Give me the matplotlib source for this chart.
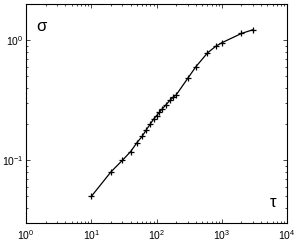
import matplotlib
matplotlib.use("Agg")
import matplotlib.pyplot as plt
import numpy as np

tau = [10, 20, 30, 40, 50, 60, 70, 80, 90, 100, 110, 120, 140, 160, 180, 200,
       300, 400, 600, 800, 1000, 2000, 3000]
sigma = [0.05, 0.08, 0.10, 0.118, 0.14, 0.158, 0.18, 0.20, 0.22, 0.235, 0.25,
         0.265, 0.29, 0.315, 0.335, 0.35, 0.48, 0.60, 0.78, 0.885, 0.95,
         1.135, 1.22]

plt.rcParams['font.family'] = ['Liberation Sans', 'DejaVu Sans']

fig = plt.figure(figsize=(3.0, 2.44), dpi=100)
ax = fig.add_axes([0.087, 0.086, 0.870, 0.898])

ax.loglog(tau, sigma, color="black", linewidth=0.9, marker="+",
          markersize=5, markeredgewidth=0.9)

ax.set_xlim(1, 1e4)
ax.set_ylim(0.03, 2)
ax.set_xticks([1, 10, 100, 1000, 10000])
ax.set_yticks([0.1, 1])

ax.tick_params(which="both", direction="in", top=True, right=True,
               labelsize=7.5, width=0.5)
ax.tick_params(axis="y", pad=2)
ax.tick_params(which="major", length=3)
ax.tick_params(which="minor", length=1.5)
for s in ax.spines.values():
    s.set_linewidth(0.8)

ax.text(0.04, 0.93, "σ", transform=ax.transAxes, fontsize=12,
        ha="left", va="top")
ax.text(0.96, 0.06, "τ", transform=ax.transAxes, fontsize=12,
        ha="right", va="bottom")

fig.savefig("out.png", dpi=100)
